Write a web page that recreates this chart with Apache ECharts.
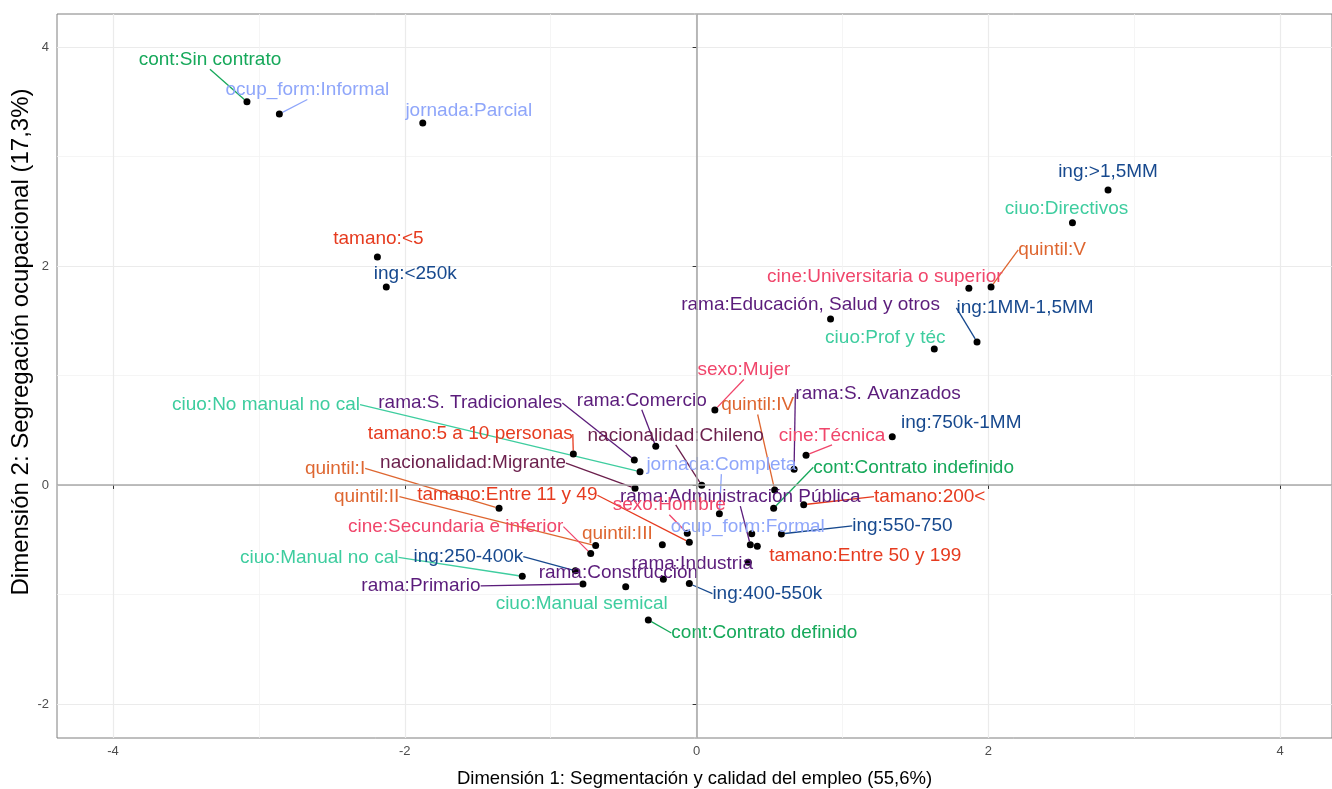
<!DOCTYPE html>
<html>
<head>
<meta charset="utf-8">
<script src="https://cdn.jsdelivr.net/npm/echarts@6/dist/echarts.min.js"></script>
<style>
html,body{margin:0;padding:0;background:#ffffff;}
#c{width:1332px;height:789px;}
</style>
</head>
<body>
<div id="c"></div>
<script>
// ---------------- data ----------------
const categories = [
  'cont:Sin contrato','ocup_form:Informal','jornada:Parcial','tamano:<5','ing:<250k',
  'ing:>1,5MM','ciuo:Directivos','quintil:V','cine:Universitaria o superior','ing:1MM-1,5MM',
  'rama:Educación, Salud y otros','ciuo:Prof y téc','sexo:Mujer','ing:750k-1MM','rama:S. Avanzados',
  'quintil:IV','cine:Técnica','cont:Contrato indefinido','tamano:200<','ing:550-750',
  'tamano:Entre 50 y 199','rama:Industria','ocup_form:Formal','rama:Administración Pública','jornada:Completa',
  'nacionalidad:Chileno','rama:Comercio','rama:S. Tradicionales','ciuo:No manual no cal','tamano:5 a 10 personas',
  'nacionalidad:Migrante','quintil:I','quintil:II','tamano:Entre 11 y 49','cine:Secundaria e inferior',
  'quintil:III','sexo:Hombre','ciuo:Manual no cal','ing:250-400k','rama:Primario',
  'rama:Construcción','ciuo:Manual semical','ing:400-550k','cont:Contrato definido'
];
const dim1 = [
  -3.082,-2.860,-1.877,-2.188,-2.127,
   2.820, 2.576, 2.018, 1.866, 1.922,
   0.918, 1.629, 0.125, 1.341, 0.668,
   0.535, 0.750, 0.528, 0.734, 0.581,
   0.416, 0.354, 0.378, 0.368, 0.156,
   0.035,-0.280,-0.427,-0.388,-0.845,
  -0.422,-1.354,-0.692,-0.050,-0.726,
  -0.235,-0.064,-1.195,-0.831,-0.779,
  -0.228,-0.486,-0.050,-0.331
];
const dim2 = [
   3.500, 3.388, 3.306, 2.082, 1.808,
   2.694, 2.395, 1.808, 1.796, 1.306,
   1.516, 1.242, 0.685, 0.441, 0.143,
  -0.046, 0.271,-0.213,-0.180,-0.447,
  -0.560,-0.706,-0.445,-0.545,-0.262,
  -0.003, 0.353, 0.228, 0.121, 0.283,
  -0.030,-0.213,-0.554,-0.523,-0.627,
  -0.545,-0.441,-0.834,-0.783,-0.904,
  -0.861,-0.929,-0.901,-1.233
];
const xTicks = [-4, -2, 0, 2, 4];
const xMinorTicks = [-3, -1, 1, 3];
const yTicks = [-2, 0, 2, 4];
const yMinorTicks = [-1, 1, 3];
const xTitle = 'Dimensión 1: Segmentación y calidad del empleo (55,6%)';
const yTitle = 'Dimensión 2: Segregación ocupacional (17,3%)';

// ---------------- layout / style ----------------
const X_MIN = -4.384, X_MAX = 4.355, Y_MIN = -2.311, Y_MAX = 4.301;
const labelDx = [-37,28,46,1,29, 0,-6,61,-84,48, -20,-49,29,69,84, -17,26,140,126,121,
  108,-56,-4,-10,2, -26,-14,-164,-374,-103, -162,-164,-229,-182,-135, -45,-18,-203,-107,-162, -45,-44,78,116];
const labelDy = [-44,-26,-14,-20,-15, -20,-16,-39,-14,-36, -16,-13,-42,-16,-78, -87,-22,-43,-10,-10,
  7,0,-9,-50,-51, -52,-48,-59,-69,-22, -27,-42,-51,-49,-29, -13,-30,-21,-16,0, -8,15,8,11];
const LABEL_SHIFT_Y = 2;
const labelSegment = [1,1,0,0,0, 0,0,1,0,1, 0,0,1,0,1, 1,1,1,1,1, 0,0,0,1,1, 1,1,1,1,1, 1,1,1,1,1, 0,1,1,1,1, 0,0,1,1];
const groupColors = {
  cont:'#16a85a', ocup_form:'#8fa6fa', jornada:'#8fa6fa', tamano:'#e63b1f', ing:'#17498e',
  ciuo:'#3ecd9f', quintil:'#de6630', cine:'#f0466b', rama:'#5b1c7b', sexo:'#f0466b', nacionalidad:'#6b1f4c'
};
const FONT = '"Liberation Sans", Arial, sans-serif';

const points = categories.map(function (name, i) {
  const col = groupColors[name.split(':')[0]];
  return {
    name: name,
    value: [dim1[i], dim2[i]],
    label: { color: col },
    labelLine: { show: !!labelSegment[i], lineStyle: { color: col, width: 1.3 } }
  };
});

const chart = echarts.init(document.getElementById('c'));
const option = {
  animation: false,
  backgroundColor: '#ffffff',
  grid: { left: 57, right: 0, top: 14, bottom: 51, show: true, borderColor: '#7f7f7f', borderWidth: 1,
          containLabel: false, outerBoundsMode: 'none' },
  xAxis: [
    {
      type: 'value', min: X_MIN, max: X_MAX,
      name: xTitle, nameLocation: 'middle', nameGap: 31, nameMoveOverlap: false,
      nameTextStyle: { fontFamily: FONT, fontSize: 18.5, color: '#000' },
      axisLine: { show: false },
      axisTick: { show: true, length: 4, customValues: xTicks, lineStyle: { color: '#333', width: 1 } },
      axisLabel: { customValues: xTicks, fontFamily: FONT, fontSize: 13, color: '#4d4d4d', margin: 7 },
      splitLine: { show: true, lineStyle: { color: '#ebebeb', width: 1.2 } }
    },
    {
      type: 'value', min: X_MIN, max: X_MAX, position: 'bottom',
      axisLine: { show: false },
      axisTick: { show: false, customValues: xMinorTicks },
      axisLabel: { show: false, customValues: xMinorTicks },
      splitLine: { show: true, lineStyle: { color: '#f2f2f2', width: 0.8 } }
    }
  ],
  yAxis: [
    {
      type: 'value', min: Y_MIN, max: Y_MAX,
      name: yTitle, nameLocation: 'middle', nameGap: 24, nameRotate: 90, nameMoveOverlap: false,
      nameTextStyle: { fontFamily: FONT, fontSize: 24, color: '#000', padding: [0, 0, 0, 68] },
      axisLine: { show: false },
      axisTick: { show: true, length: 4, customValues: yTicks, lineStyle: { color: '#333', width: 1 } },
      axisLabel: { customValues: yTicks, fontFamily: FONT, fontSize: 13, color: '#4d4d4d', margin: 8 },
      splitLine: { show: true, lineStyle: { color: '#ebebeb', width: 1.2 } }
    },
    {
      type: 'value', min: Y_MIN, max: Y_MAX, position: 'left',
      axisLine: { show: false },
      axisTick: { show: false, customValues: yMinorTicks },
      axisLabel: { show: false, customValues: yMinorTicks },
      splitLine: { show: true, lineStyle: { color: '#f2f2f2', width: 0.8 } }
    }
  ],
  series: [
    {
      type: 'scatter', xAxisIndex: 0, yAxisIndex: 0, z: 1, data: [], silent: true,
      markLine: {
        silent: true, symbol: ['none', 'none'], animation: false,
        label: { show: false },
        lineStyle: { color: '#a9a9a9', width: 1.6, type: 'solid' },
        data: [{ xAxis: 0 }, { yAxis: 0 }]
      }
    },
    {
      type: 'scatter', xAxisIndex: 0, yAxisIndex: 0, z: 3,
      symbolSize: 7,
      itemStyle: { color: '#000000', opacity: 1 },
      emphasis: { disabled: true },
      label: {
        show: true, position: 'inside', formatter: '{b}',
        fontFamily: FONT, fontSize: 19, align: 'center', verticalAlign: 'middle'
      },
      labelLine: { show: true, length2: 0, lineStyle: { width: 1.3 } },
      labelLayout: function (params) {
        return { dx: labelDx[params.dataIndex], dy: labelDy[params.dataIndex] + LABEL_SHIFT_Y, hideOverlap: false };
      },
      data: points
    }
  ]
};
chart.setOption(option);
</script>
</body>
</html>
